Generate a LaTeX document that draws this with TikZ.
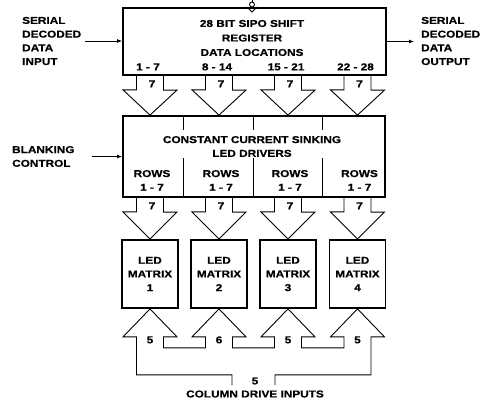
\documentclass[tikz,border=0pt]{standalone}
\usepackage{fontspec}
\setmainfont{Liberation Sans}[FakeStretch=1.18, FakeBold=0.6]
\usetikzlibrary{arrows.meta, calc}

\begin{document}
\begin{tikzpicture}[
		x=1pt, y=-1pt,
		every node/.style={font=\fontsize{10}{13.7}\selectfont\bfseries, inner sep=0pt},
		block/.style={draw, line width=1.8pt},
		matrixbox/.style={block, minimum width=56pt, minimum height=68pt, align=center},
		lbl/.style={align=left, anchor=west},
		bus/.style={draw, line width=0.9pt, line join=miter},
		sig/.style={-{Latex[length=5pt,width=4pt]}, line width=0.9pt}
		]
		\useasboundingbox (0,0) rectangle (481,404);
		\clip (0,0) rectangle (481,404);
		
		% shift register and drivers
		\node[block, minimum width=263pt, minimum height=67pt] (reg) at (254.5,41.5) {};
		\node[align=center, font=\fontsize{10}{14.5}\selectfont\bfseries] (regtxt) at (252,38) {28 BIT SIPO SHIFT\\REGISTER\\DATA LOCATIONS};
		\node[block, minimum width=262pt, minimum height=81pt] (drv) at (254,156.5) {};
		\node[align=center] (drvtxt) at (252,146.5) {CONSTANT CURRENT SINKING\\LED DRIVERS};
		\foreach \x in {183,253,322} {
			\draw[line width=1pt] (\x,115) -- (\x,130);
			\draw[line width=1pt] (\x,158) -- (\x,198);
		}
		
		% led matrices
		\node[matrixbox] (led1) at (150,274) {LED\\MATRIX\\1};
		\node[matrixbox] (led2) at (219,274) {LED\\MATRIX\\2};
		\node[matrixbox] (led3) at (288,274) {LED\\MATRIX\\3};
		\node[matrixbox] (led4) at (357.5,274) {LED\\MATRIX\\4};
		
		% side labels
		\node[lbl] (in) at (22,41) {SERIAL\\DECODED\\DATA\\INPUT};
		\node[lbl] (out) at (421,41) {SERIAL\\DECODED\\DATA\\OUTPUT};
		\node[lbl] (blank) at (12,156.5) {BLANKING\\CONTROL};
		
		\draw[sig] ([xshift=4pt]in.east) -- (in.east -| reg.west);
		\draw[sig] (reg.east) -- ([xshift=-7pt]reg.east -| out.west);
		\draw[sig] ([xshift=17pt]blank.east) -- (blank.east -| drv.west);
		
		% clock input
		\draw[line width=0.9pt] (252,-3) -- (252,2);
		\draw[line width=0.9pt] (252,4.5) circle (2.5);
		\draw[line width=0.9pt] (247,7) -- (252,12) -- (257,7);
		
		% data locations and the 7 line buses
		\foreach \i/\loc in {1/{1 - 7}, 2/{8 - 14}, 3/{15 - 21}, 4/{22 - 28}} {
			\node (loc\i) at ($(led\i |- reg.south)+(-2,-9)$) {\loc};
			\draw[bus] ($(led\i |- reg.south)+(-13.5,0)$) -- ++(0,14) -- ++(-13.5,0)
				-- (led\i |- drv.north) -- ++(27,-25) -- ++(-13.5,0) -- ++(0,-14);
			\node (sa\i) at ($(led\i |- reg.south)+(2,8)$) {7};
			\node[align=center] (rows\i) at ($(led\i |- drv.south)+(2,-17.5)$) {ROWS\\1 - 7};
			\draw[bus] ($(led\i |- drv.south)+(-13.5,0)$) -- ++(0,14) -- ++(-13.5,0)
				-- (led\i.north) -- ++(27,-27) -- ++(-13.5,0) -- ++(0,-14);
			\node (sb\i) at ($(led\i |- drv.south)+(2,8)$) {7};
		}
		
		% column drive bus
		\coordinate (cdl) at (232,385);
		\coordinate (cdr) at (275,385);
		\draw[bus] (cdl) |- ($(led1.south)+(-13.5,66)$) -- ++(0,-38) -- ++(-13.5,0)
			-- (led1.south) -- ++(27,28) -- ++(-13.5,0) -- ++(0,11)
			-| ($(led2.south)+(-13.5,28)$) -- ++(-13.5,0)
			-- (led2.south) -- ++(27,28) -- ++(-13.5,0) -- ++(0,11)
			-| ($(led3.south)+(-13.5,28)$) -- ++(-13.5,0)
			-- (led3.south) -- ++(27,28) -- ++(-13.5,0) -- ++(0,11)
			-| ($(led4.south)+(-13.5,28)$) -- ++(-13.5,0)
			-- (led4.south) -- ++(27,28) -- ++(-13.5,0) -- ++(0,38) -| (cdr);
		\node (c1) at ($(led1.south)+(0,31)$) {5};
		\node (c2) at ($(led2.south)+(0,31)$) {6};
		\node (c3) at ($(led3.south)+(0,31)$) {5};
		\node (c4) at ($(led4.south)+(0,31)$) {5};
		\node (cn) at (255,381) {5};
		\node (colin) at (255,394) {COLUMN DRIVE INPUTS};
		
	\end{tikzpicture}
\end{document}
